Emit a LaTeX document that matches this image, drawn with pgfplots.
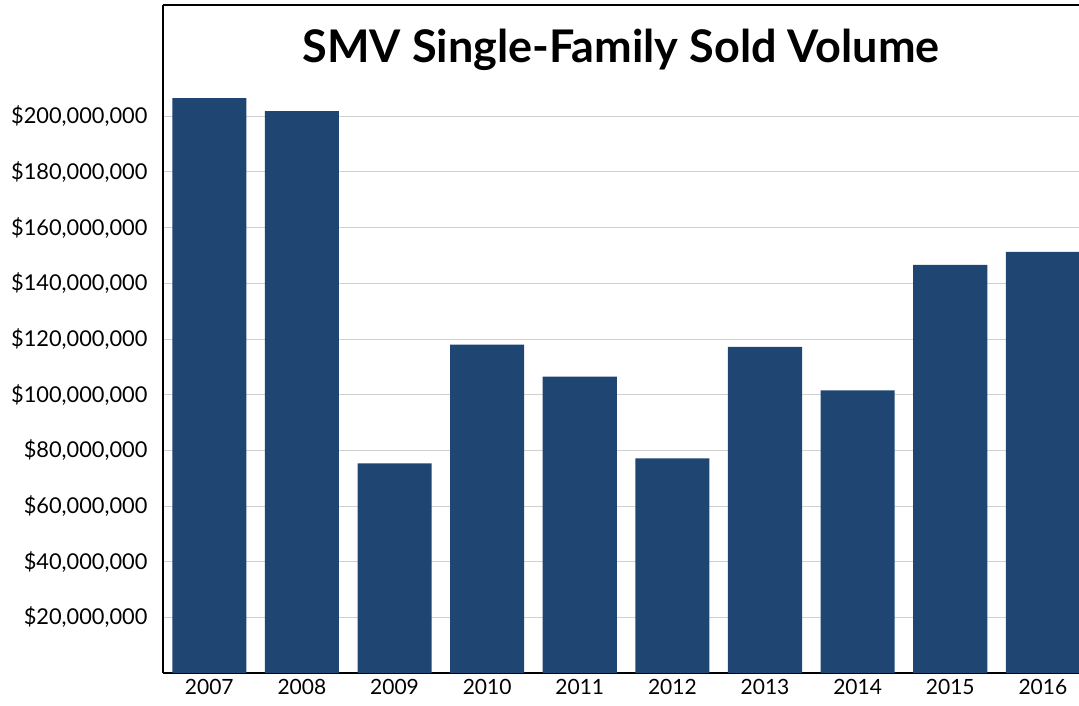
\documentclass[border=0pt]{standalone}
\usepackage{pgfplots}
\pgfplotsset{compat=1.18}
\usepackage{fontspec}
\setmainfont{Lato}
\definecolor{barblue}{RGB}{31,69,114}
\definecolor{gridgray}{RGB}{208,208,208}
\begin{document}
\begin{tikzpicture}
\begin{axis}[
  at={(0,0)}, anchor=south west,
  scale only axis,
  width=916pt, height=668pt,
  xmin=-0.5, xmax=9.39,
  ymin=0, ymax=240000000,
  axis lines=left,
  axis line style={-, line width=2.6pt, black},
  xtick={0,1,2,3,4,5,6,7,8,9},
  xticklabels={2007,2008,2009,2010,2011,2012,2013,2014,2015,2016},
  ytick={20000000,40000000,60000000,80000000,100000000,120000000,140000000,160000000,180000000,200000000},
  yticklabels={{\$20,000,000},{\$40,000,000},{\$60,000,000},{\$80,000,000},{\$100,000,000},{\$120,000,000},{\$140,000,000},{\$160,000,000},{\$180,000,000},{\$200,000,000}},
  scaled y ticks=false,
  major tick length=0pt,
  ymajorgrids,
  grid style={gridgray, line width=1pt},
  xticklabel style={font=\fontsize{21}{25}\selectfont, yshift=-3pt},
  yticklabel style={font=\fontsize{21.8}{26}\selectfont, xshift=-12pt},
  ybar, bar width=0.8,
  clip=true,
]
\addplot[fill=barblue, draw=none] coordinates {
 (0,206500000) (1,201900000) (2,75300000) (3,118000000) (4,106500000)
 (5,77100000) (6,117200000) (7,101500000) (8,146600000) (9,151300000)
};
\draw[line width=2.6pt] (rel axis cs:0,1) -- (rel axis cs:1,1);
\node[font=\fontsize{45}{54}\selectfont\bfseries, anchor=center] at ([yshift=-45pt]rel axis cs:0.5,1) {SMV Single-Family Sold Volume};
\end{axis}
\pgfresetboundingbox
\path[use as bounding box] (-163pt,-32pt) rectangle (916pt,673pt);
\end{tikzpicture}
\end{document}
